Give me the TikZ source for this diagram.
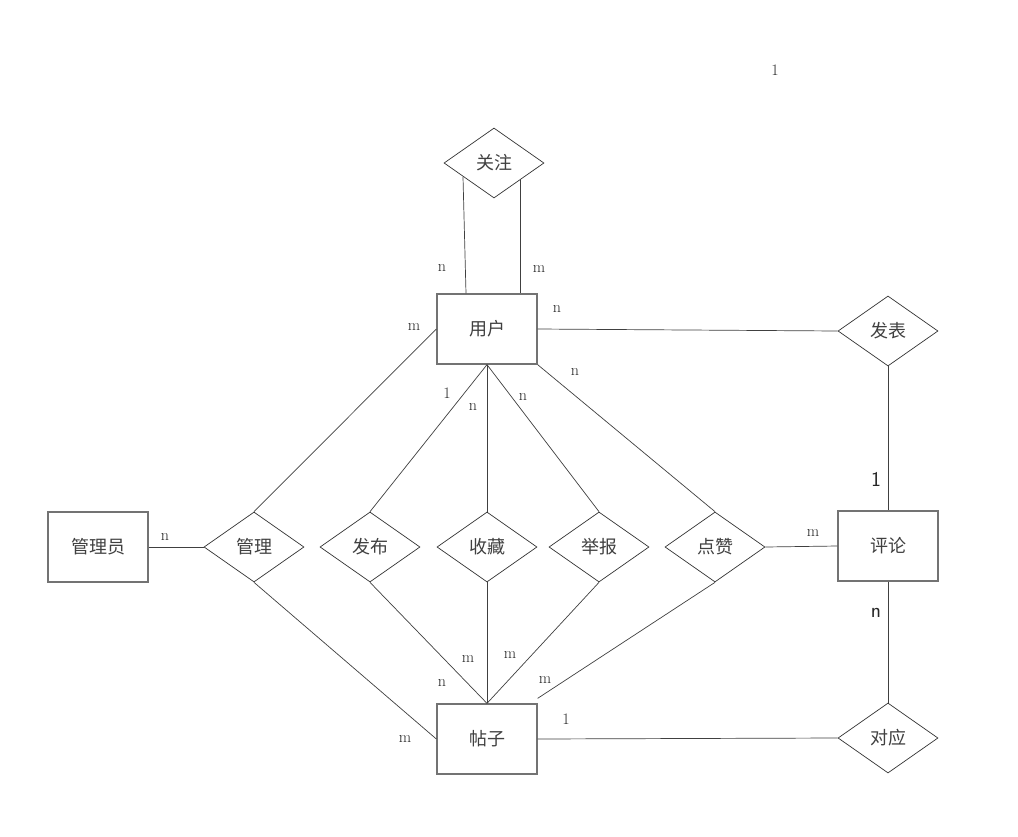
\documentclass[tikz,border=0pt]{standalone}
\usepackage{fontspec}
\newfontfamily\cjk{Noto Sans CJK SC}
\usetikzlibrary{shapes.geometric}
\begin{document}
\begin{tikzpicture}[x=1pt,y=-1pt,
  ent/.style={draw=black!55,line width=1.3pt,minimum width=100pt,minimum height=70pt,inner sep=0pt,text=black!75,font=\cjk\fontsize{18}{18}\selectfont},
  rel/.style={draw=black!80,line width=0.7pt,diamond,aspect=1.43,minimum width=100pt,minimum height=70pt,inner sep=0pt,text=black!75,font=\cjk\fontsize{18}{18}\selectfont},
  ln/.style={draw=black!75,line width=0.7pt},
  card/.style={font=\fontsize{16}{16}\selectfont,text=black!85,inner sep=0pt},
  bigcard/.style={font=\sffamily\fontsize{21}{21}\selectfont,text=black!85,inner sep=0pt}]
\useasboundingbox (0,0) rectangle (1018,836);
\fill[white] (0,0) rectangle (1018,836);
% entities
\node[ent] (user) at (487,329) {用户};
\node[ent] (post) at (487,739) {帖子};
\node[ent] (admin) at (98,547) {管理员};
\node[ent] (comment) at (888,546) {评论};
% relations
\node[rel] (follow) at (494,163) {关注};
\node[rel] (publishC) at (888,331) {发表};
\node[rel] (corr) at (888,738) {对应};
\node[rel] (manage) at (254,547) {管理};
\node[rel] (publish) at (370,547) {发布};
\node[rel] (fav) at (487,547) {收藏};
\node[rel] (report) at (599,547) {举报};
\node[rel] (like) at (715,547) {点赞};
% connectors
\coordinate (fl) at (463,177);
\coordinate (fr) at (520,180);
\draw[ln] (fl) -- (user.north west -| 466,0) ;
\draw[ln] (fr) -- (user.north west -| 520,0);
\draw[ln] (admin.east) -- (manage.west);
\draw[ln] (user.west) -- (manage.north);
\draw[ln] (manage.south) -- (post.west);
\draw[ln] (user.south) -- (publish.north);
\draw[ln] (user.south) -- (fav.north);
\draw[ln] (user.south) -- (report.north);
\draw[ln] (user.south east) -- (like.north);
\draw[ln] (user.east) -- (publishC.west);
\draw[ln] (publishC.south) -- (comment.north);
\draw[ln] (like.east) -- (comment.west);
\draw[ln] (comment.south) -- (corr.north);
\draw[ln] (post.east) -- (corr.west);
\draw[ln] (publish.south) -- (post.north);
\draw[ln] (fav.south) -- (post.north);
\draw[ln] (report.south) -- (post.north);
\draw[ln] (like.south) -- ([yshift=5pt]post.north east);
% cardinalities
\node[card] (c1) at (442,268) {n};
\node[card] (c2) at (539,269) {m};
\node[card] (c3) at (414,327) {m};
\node[card] (c4) at (557,309) {n};
\node[card] (c5) at (447,393) {1};
\node[card] (c6) at (473,407) {n};
\node[card] (c7) at (523,397) {n};
\node[card] (c8) at (575,372) {n};
\node[card] (c9) at (165,537) {n};
\node[card] (c10) at (813,533) {m};
\node[bigcard] (c11) at (876,479) {1};
\node[bigcard] (c12) at (876,613) {n};
\node[card] (c13) at (468,659) {m};
\node[card] (c14) at (510,655) {m};
\node[card] (c15) at (442,683) {n};
\node[card] (c16) at (545,680) {m};
\node[card] (c17) at (405,739) {m};
\node[card] (c18) at (566,719) {1};
\node[card] (c19) at (775,70) {1};
\end{tikzpicture}
\end{document}
